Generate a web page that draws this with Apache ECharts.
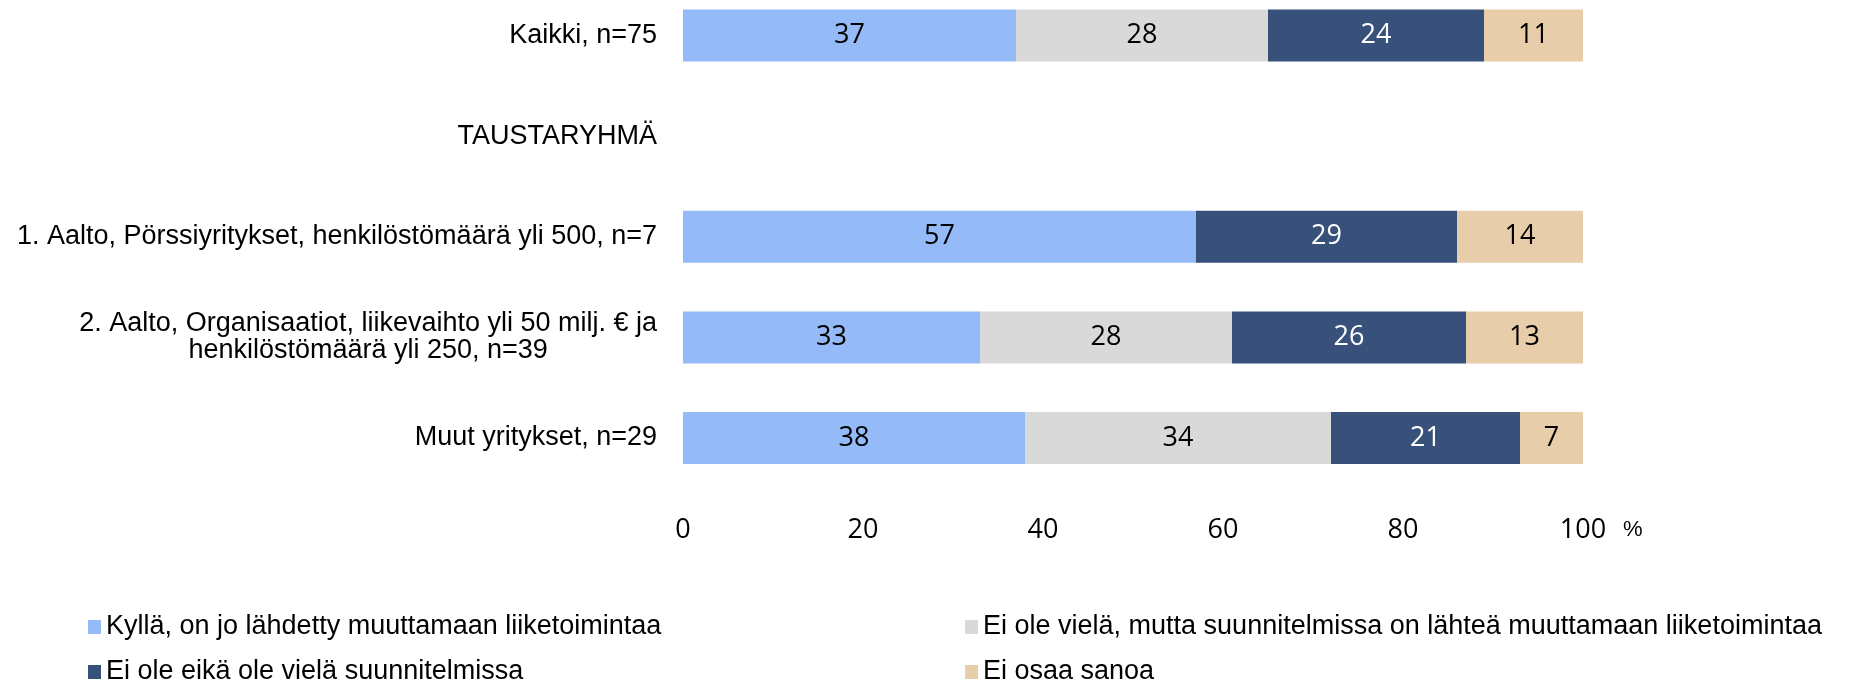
<!DOCTYPE html>
<html>
<head>
<meta charset="utf-8">
<script src="https://cdn.jsdelivr.net/npm/echarts@6/dist/echarts.min.js"></script>
<style>
	html, body { margin: 0; padding: 0; background: #fff; }
	#chart { width: 1849px; height: 684px; }
</style>
</head>
<body>
<div id="chart"></div>
<script>
var categories = [
	"Kaikki, n=75",
	"TAUSTARYHMÄ",
	"1. Aalto, Pörssiyritykset, henkilöstömäärä yli 500, n=7",
	"2. Aalto, Organisaatiot, liikevaihto yli 50 milj. € ja\nhenkilöstömäärä yli 250, n=39",
	"Muut yritykset, n=29"
];
var seriesNames = [
	"Kyllä, on jo lähdetty muuttamaan liiketoimintaa",
	"Ei ole vielä, mutta suunnitelmissa on lähteä muuttamaan liiketoimintaa",
	"Ei ole eikä ole vielä suunnitelmissa",
	"Ei osaa sanoa"
];
var kylla = [37, null, 57, 33, 38];
var suunnitelmissa = [28, null, null, 28, 34];
var eiOle = [24, null, 29, 26, 21];
var eiOsaa = [11, null, 14, 13, 7];
var xTicks = [0, 20, 40, 60, 80, 100];

var colors = ["#94bbf7", "#d9d9d9", "#37517a", "#e8cdaa"];
var labelColors = ["#000", "#000", "#fff", "#000"];
var values = [kylla, suunnitelmissa, eiOle, eiOsaa];

var chart = echarts.init(document.getElementById("chart"));

var series = [];
for (var i = 0; i < values.length; i++) {
	series.push({
		name: seriesNames[i],
		type: "bar",
		stack: "total",
		barWidth: 52,
		data: values[i],
		itemStyle: { color: colors[i] },
		label: {
			show: true,
			position: "inside",
			color: labelColors[i],
			fontFamily: "Open Sans",
			fontSize: 27,
			formatter: function (p) {
				return p.value ? String(p.value) : "";
			}
		}
	});
}

// legend: two columns, one item per legend
var legendPos = [
	{ left: 88, top: 613 },
	{ left: 965, top: 613 },
	{ left: 88, top: 658 },
	{ left: 965, top: 658 }
];
var legends = [];
for (var j = 0; j < seriesNames.length; j++) {
	legends.push({
		left: legendPos[j].left,
		top: legendPos[j].top,
		padding: 0,
		itemWidth: 13,
		itemHeight: 14,
		icon: "rect",
		data: [seriesNames[j]],
		textStyle: {
			fontFamily: "Liberation Sans",
			fontSize: 27,
			lineHeight: 28,
			color: "#000"
		}
	});
}

var option = {
	animation: false,
	color: colors,
	grid: {
		left: 683,
		right: 266,
		top: 35.5,
		bottom: 246
	},
	xAxis: {
		type: "value",
		min: 0,
		max: 100,
		interval: 20,
		offset: 92,
		axisLine: { show: false },
		axisTick: { show: false },
		splitLine: { show: false },
		axisLabel: {
			margin: 0,
			verticalAlign: "middle",
			fontFamily: "Open Sans",
			fontSize: 27,
			color: "#000",
			formatter: function (v) {
				return xTicks.indexOf(v) >= 0 ? String(v) : "";
			}
		},
		name: "%",
		nameLocation: "end",
		nameGap: 40,
		nameTextStyle: {
			fontFamily: "Liberation Sans",
			fontSize: 22,
			color: "#000",
			align: "left",
			verticalAlign: "middle",
			padding: [26, 0, 0, 0]
		}
	},
	yAxis: {
		type: "category",
		inverse: true,
		boundaryGap: false,
		data: categories,
		axisLine: { show: false },
		axisTick: { show: false },
		splitLine: { show: false },
		axisLabel: {
			margin: 26,
			color: "#000",
			fontFamily: "Liberation Sans",
			fontSize: 27,
			lineHeight: 27,
			formatter: function (v) {
				return v.split("\n").map(function (s) {
					return "{c|" + s + "}";
				}).join("\n");
			},
			rich: {
				c: {
					align: "center",
					fontFamily: "Liberation Sans",
					fontSize: 27,
					lineHeight: 27,
					color: "#000"
				}
			}
		}
	},
	legend: legends,
	series: series
};

chart.setOption(option);
</script>
</body>
</html>
